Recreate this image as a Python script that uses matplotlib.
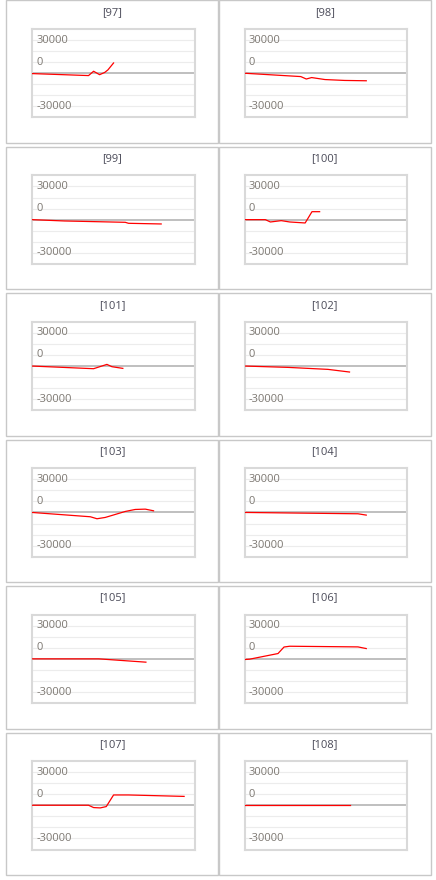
import matplotlib

matplotlib.use("Agg")
import matplotlib.pyplot as plt
from matplotlib.patches import Rectangle

plt.rcParams["font.family"] = ["Open Sans", "DejaVu Sans"]

FIG_W, FIG_H = 436, 880

panel_ids = [97, 98, 99, 100, 101, 102, 103, 104, 105, 106, 107, 108]

# vertices of each red line: x position (0-100 across the plot), value
x_97 = [0, 34.8, 37.9, 41.6, 44.7, 46.7, 50.2]
y_97 = [-300, -2100, 1800, -1300, 700, 3000, 9300]
x_98 = [0, 34.5, 37.9, 41.2, 49.4, 61.5, 74.8]
y_98 = [0, -3000, -5200, -3900, -5700, -6500, -6800]
x_99 = [0, 20.0, 57.4, 59.4, 79.5]
y_99 = [0, -1200, -2400, -3300, -3900]
x_100 = [0, 12.7, 15.8, 22.5, 27.7, 37.2, 41.4, 46.1]
y_100 = [0, 0, -2100, -900, -2100, -3000, 7200, 7200]
x_101 = [0, 37.9, 46.1, 49.2, 55.9]
y_101 = [0, -2400, 1500, -600, -2100]
x_102 = [0, 26.6, 51.2, 64.5]
y_102 = [0, -1200, -3000, -5400]
x_103 = [0, 35.9, 40.0, 45.1, 57.4, 63.5, 69.7, 74.8]
y_103 = [0, -3900, -5700, -4500, 900, 2700, 3000, 1500]
x_104 = [0, 34.8, 69.7, 74.8]
y_104 = [0, -600, -1200, -2400]
x_105 = [0, 41.0, 70.1]
y_105 = [0, 0, -3000]
x_106 = [0, 3.0, 20.5, 24.2, 27.7, 69.7, 74.8]
y_106 = [-600, -300, 4800, 10700, 11400, 10800, 9300]
x_107 = [0, 34.8, 37.9, 42.0, 45.7, 50.2, 59.4, 93.6]
y_107 = [0, 0, -2100, -2400, -1200, 9300, 9300, 8000]
x_108 = [0, 64.5]
y_108 = [0, 0]

series_x = [x_97, x_98, x_99, x_100, x_101, x_102, x_103, x_104, x_105, x_106, x_107, x_108]
series_y = [y_97, y_98, y_99, y_100, y_101, y_102, y_103, y_104, y_105, y_106, y_107, y_108]

grid_values = [-30000, -20000, -10000, 10000, 20000, 30000]
label_texts = ["30000", "0", "-30000"]
label_levels = [30000, 10000, -30000]  # where each label sits in the original


def fx(px):
    return px / FIG_W


def fy(py):
    return 1 - py / FIG_H


fig = plt.figure(figsize=(FIG_W / 100, FIG_H / 100), dpi=100)

for idx, (pid, xs, ys) in enumerate(zip(panel_ids, series_x, series_y)):
    row, col = divmod(idx, 2)
    left = 6 + col * 212.7
    top = 0.5 + row * 146.4
    width, height = 212, 142.5

    fig.add_artist(Rectangle((fx(left), fy(top + height)), width / FIG_W, height / FIG_H,
                             transform=fig.transFigure, fill=False, edgecolor="#c8c8c8", linewidth=1.0))
    fig.text(fx(left + width / 2), fy(top + 12), f"[{pid}]", ha="center", va="center",
             fontsize=8, color="#4a4a58")

    p_left, p_right = left + 26, left + 188.5
    p_top, p_bottom = top + 28.5, top + 117
    ax = fig.add_axes([fx(p_left), fy(p_bottom), (p_right - p_left) / FIG_W, (p_bottom - p_top) / FIG_H])
    ax.set_xlim(0, 100)
    ax.set_ylim(-40000, 40000)
    ax.set_xticks([])
    ax.set_yticks([])
    for spine in ax.spines.values():
        spine.set_color("#d9d9d9")
        spine.set_linewidth(1.5)
    for gv in grid_values:
        ax.axhline(gv, color="#ececec", linewidth=0.8, zorder=1)
    ax.axhline(0, color="#b4b4b4", linewidth=1.2, zorder=2)
    for text, level in zip(label_texts, label_levels):
        ax.text(0.025, level, text, transform=ax.get_yaxis_transform(), ha="left", va="center",
                fontsize=8, color="#7d7872", zorder=3)
    ax.plot(xs, ys, color="#ff0000", linewidth=0.9, zorder=4)

fig.savefig("out.png", dpi=100)
plt.close(fig)
